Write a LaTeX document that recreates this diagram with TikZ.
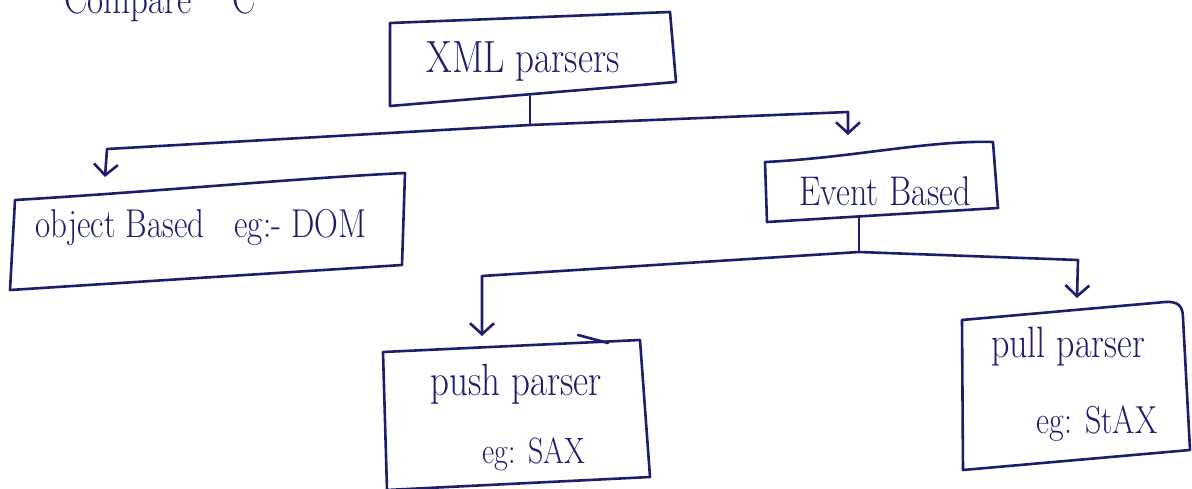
\documentclass[tikz,border=0pt]{standalone}
\usetikzlibrary{arrows.meta}
\definecolor{ink}{RGB}{28,30,108}
\tikzset{
  pen/.style={draw=ink, line width=2.6pt, line join=round, line cap=round},
  hand/.style={text=ink, anchor=base, inner sep=0pt, font=\fontsize{#1}{#1}\selectfont},
  barbs/.style={{Straight Barb[length=11pt,width=24pt]}-{Straight Barb[length=11pt,width=24pt]}},
}
% taller lettering, closer to a hand-written look
\newcommand{\tall}[1]{\scalebox{1}[1.22]{#1}}
\begin{document}
\begin{tikzpicture}[x=1pt,y=-1pt]
\useasboundingbox (0,0) rectangle (1192,488);
\clip (0,0) rectangle (1192,488);
\fill[white] (0,0) rectangle (1192,488);

% heading, running off the top edge
\node[hand=35] (head) at (128,13) {\tall{Compare}};
\node[hand=35] (head2) at (244,13) {\tall{C}};

% box corners
\coordinate (xml-nw) at (390,23);  \coordinate (xml-ne) at (670,12);
\coordinate (xml-se) at (676,82);  \coordinate (xml-sw) at (390,106);
\coordinate (obj-nw) at (15,200);  \coordinate (obj-ne) at (405,173);
\coordinate (obj-se) at (402,265); \coordinate (obj-sw) at (10,290);
\coordinate (evt-nw) at (765,162); \coordinate (evt-ne) at (993,142);
\coordinate (evt-se) at (998,208); \coordinate (evt-sw) at (767,222);
\coordinate (psh-nw) at (383,352); \coordinate (psh-ne) at (640,340);
\coordinate (psh-se) at (650,477); \coordinate (psh-sw) at (387,490);
\coordinate (pul-nw) at (962,320); \coordinate (pul-ne) at (1183,318);
\coordinate (pul-se) at (1190,450); \coordinate (pul-sw) at (963,470);

% boxes
\draw[pen] (xml-nw) -- (xml-ne) -- (xml-se) -- (xml-sw) -- cycle;
\draw[pen] (obj-nw) .. controls (150,192) and (300,178) .. (obj-ne) -- (obj-se) -- (obj-sw) -- cycle;
\draw[pen] (evt-nw) .. controls (850,158) and (930,140) .. (evt-ne) -- (evt-se) -- (evt-sw) -- cycle;
\draw[pen] (psh-nw) -- (psh-ne) -- (psh-se) -- (psh-sw) -- cycle;
\draw[pen] (pul-nw) -- (1165,302) .. controls (1178,301) and (1183,306) .. (pul-ne)
  -- (pul-se) -- (pul-sw) -- cycle;
\draw[pen] (578,335) -- (608,343);

% labels
\node[hand=37] (xml) at (523,72) {\tall{XML parsers}};
\node[hand=33] (obj) at (201,237) {\tall{object Based\hspace{0.6em} eg:- DOM}};
\node[hand=34] (evt) at (885,205) {\tall{Event Based}};
\node[hand=37] (psh) at (516,395) {\tall{push parser}};
\node[hand=30] (psh2) at (534,463) {\tall{eg: SAX}};
\node[hand=36] (pul) at (1068,357) {\tall{pull parser}};
\node[hand=32] (pul2) at (1097,433) {\tall{eg: StAX}};

% connector points
\coordinate (xml-out) at (530,96);
\coordinate (j1) at (530,125);
\coordinate (obj-in) at (105,177);
\coordinate (evt-in) at (848,135);
\coordinate (evt-out) at (859,216);
\coordinate (j2) at (859,252);
\coordinate (psh-in) at (482,336);
\coordinate (pul-in) at (1077,298);

% connectors
\draw[pen] (xml-out) -- (j1);
\draw[pen, barbs] (obj-in) -- (107,149) -- (j1) -- (848,112) -- (evt-in);
\draw[pen] (evt-out) -- (j2);
\draw[pen, barbs] (psh-in) -- (482,276) -- (j2) -- (1078,260) -- (pul-in);
\end{tikzpicture}
\end{document}
